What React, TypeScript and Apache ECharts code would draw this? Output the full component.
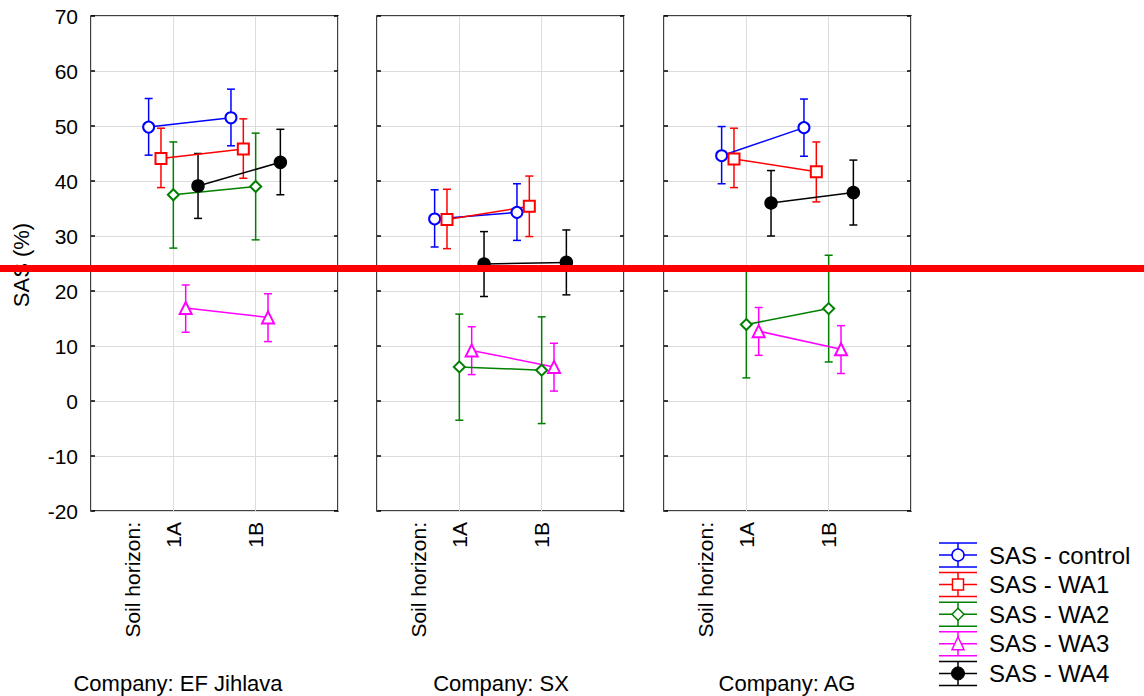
import React, { useEffect, useRef } from "react";
import * as echarts from "echarts";

// ---------- data ----------
const companies = ["EF Jihlava", "SX", "AG"];
const horizons = ["1A", "1B"];
const horizonTitle = "Soil horizon:";
const yAxisTitle = "SAS (%)";
const seriesNames = ["SAS - control", "SAS - WA1", "SAS - WA2", "SAS - WA3", "SAS - WA4"];

// values indexed [company][horizon]
const controlMean = [[49.8, 51.5], [33.1, 34.3], [44.6, 49.7]];
const controlLow = [[44.7, 46.4], [28.0, 29.2], [39.5, 44.5]];
const controlHigh = [[55.0, 56.7], [38.4, 39.5], [49.9, 54.9]];

const wa1Mean = [[44.1, 45.8], [33.0, 35.4], [44.0, 41.7]];
const wa1Low = [[38.8, 40.5], [27.7, 29.9], [38.8, 36.2]];
const wa1High = [[49.6, 51.3], [38.5, 40.9], [49.6, 47.1]];

const wa2Mean = [[37.5, 39.0], [6.2, 5.6], [13.9, 16.8]];
const wa2Low = [[27.8, 29.3], [-3.5, -4.1], [4.2, 7.1]];
const wa2High = [[47.1, 48.7], [15.8, 15.3], [23.6, 26.5]];

const wa3Mean = [[16.9, 15.2], [9.2, 6.2], [12.7, 9.4]];
const wa3Low = [[12.5, 10.8], [4.8, 1.8], [8.3, 5.0]];
const wa3High = [[21.1, 19.5], [13.5, 10.5], [17.0, 13.7]];

const wa4Mean = [[39.1, 43.4], [24.9, 25.2], [36.0, 37.9]];
const wa4Low = [[33.2, 37.5], [19.0, 19.3], [30.0, 32.0]];
const wa4High = [[45.0, 49.4], [30.8, 31.1], [41.9, 43.8]];

const yMin = -20;
const yMax = 70;
const yStep = 10;

// ---------- styles ----------
const means = [controlMean, wa1Mean, wa2Mean, wa3Mean, wa4Mean];
const lows = [controlLow, wa1Low, wa2Low, wa3Low, wa4Low];
const highs = [controlHigh, wa1High, wa2High, wa3High, wa4High];
const colors = ["#0000ff", "#ff0000", "#008000", "#ff00ff", "#000000"];
const symbols = ["emptyCircle", "emptyRect", "emptyDiamond", "emptyTriangle", "circle"];
const symbolSizes = [11, 11, 11, 12, 12];
const offsets = [-0.3, -0.15, 0, 0.15, 0.3];

const FONT = "'Liberation Sans', Arial, Helvetica, sans-serif";
const panelLefts = [91, 377, 664];
const panelWidth = 247;
const panelTop = 16;
const panelHeight = 495;
const companyLabelX = [178, 501, 787];

function buildOption(): any {
  const grid: any[] = [];
  const xAxis: any[] = [];
  const yAxis: any[] = [];
  const series: any[] = [];
  const graphic: any[] = [];

  companies.forEach((company, k) => {
    grid.push({
      left: panelLefts[k],
      top: panelTop,
      width: panelWidth,
      height: panelHeight,
      show: true,
      borderColor: "#000",
      borderWidth: 1.5,
      backgroundColor: "transparent",
    });
    xAxis.push({
      type: "value",
      gridIndex: k,
      min: 0,
      max: 3,
      interval: 1,
      axisLine: { show: false },
      axisTick: { show: false },
      splitLine: { show: true, lineStyle: { color: "#dcdcdc", width: 1 } },
      axisLabel: {
        customValues: [0.5, 1, 2],
        rotate: 90,
        margin: 11,
        fontSize: 21,
        color: "#000",
        fontFamily: FONT,
        formatter: (v: number) =>
          v === 0.5 ? horizonTitle : v === 1 ? horizons[0] : v === 2 ? horizons[1] : "",
      },
    });
    yAxis.push({
      type: "value",
      gridIndex: k,
      min: yMin,
      max: yMax,
      interval: yStep,
      position: "left",
      axisLine: { show: false },
      axisTick: { show: true, inside: true, length: 4, lineStyle: { color: "#000", width: 1.5 } },
      axisLabel: {
        show: k === 0,
        margin: 13,
        fontSize: 21,
        color: "#000",
        fontFamily: FONT,
      },
      splitLine: { show: true, lineStyle: { color: "#dcdcdc", width: 1 } },
    });
    yAxis.push({
      type: "value",
      gridIndex: k,
      min: yMin,
      max: yMax,
      interval: yStep,
      position: "right",
      axisLine: { show: false },
      axisTick: { show: true, inside: true, length: 4, lineStyle: { color: "#000", width: 1.5 } },
      axisLabel: { show: false },
      splitLine: { show: false },
    });

    seriesNames.forEach((name, s) => {
      const lineData = horizons.map((h, i) => [i + 1 + offsets[s], means[s][k][i]]);
      const errData = horizons.map((h, i) => [i + 1 + offsets[s], lows[s][k][i], highs[s][k][i]]);
      series.push({
        name,
        type: "custom",
        xAxisIndex: k,
        yAxisIndex: 2 * k,
        data: errData,
        z: 3,
        renderItem: (params: any, api: any) => {
          const x = api.value(0);
          const lo = api.coord([x, api.value(1)]);
          const hi = api.coord([x, api.value(2)]);
          const cap = 4;
          const style = { stroke: colors[s], lineWidth: 1.5 };
          return {
            type: "group",
            children: [
              { type: "line", shape: { x1: lo[0], y1: lo[1], x2: hi[0], y2: hi[1] }, style },
              { type: "line", shape: { x1: hi[0] - cap, y1: hi[1], x2: hi[0] + cap, y2: hi[1] }, style },
              { type: "line", shape: { x1: lo[0] - cap, y1: lo[1], x2: lo[0] + cap, y2: lo[1] }, style },
            ],
          };
        },
      });
      series.push({
        name,
        type: "line",
        xAxisIndex: k,
        yAxisIndex: 2 * k,
        data: lineData,
        z: 4,
        symbol: symbols[s],
        symbolSize: symbolSizes[s],
        showAllSymbol: true,
        lineStyle: { color: colors[s], width: 1.5 },
        itemStyle: { color: colors[s], borderColor: colors[s], borderWidth: 1.5 },
      });
    });

    graphic.push({
      type: "text",
      x: companyLabelX[k],
      y: 683,
      style: {
        text: "Company: " + company,
        font: `22px ${FONT}`,
        fill: "#000",
        textAlign: "center",
        textVerticalAlign: "middle",
      },
    });
  });

  // y-axis title
  graphic.push({
    type: "text",
    x: 21,
    y: 265,
    rotation: Math.PI / 2,
    style: {
      text: yAxisTitle,
      font: `22px ${FONT}`,
      fill: "#000",
      textAlign: "center",
      textVerticalAlign: "middle",
    },
  });

  // legend
  const legX0 = 939;
  const legX1 = 977;
  const legXc = 958;
  seriesNames.forEach((name, s) => {
    const yc = 555 + 29.6 * s;
    const ls = { stroke: colors[s], lineWidth: 1.5 };
    const children: any[] = [
      { type: "line", shape: { x1: legX0, y1: yc - 12, x2: legX1, y2: yc - 12 }, style: ls },
      { type: "line", shape: { x1: legX0, y1: yc, x2: legX1, y2: yc }, style: ls },
      { type: "line", shape: { x1: legX0, y1: yc + 12, x2: legX1, y2: yc + 12 }, style: ls },
      { type: "line", shape: { x1: legXc, y1: yc - 12, x2: legXc, y2: yc + 12 }, style: ls },
    ];
    const mStyle = { fill: "#fff", stroke: colors[s], lineWidth: 1.5 };
    if (s === 0) children.push({ type: "circle", shape: { cx: legXc, cy: yc, r: 6 }, style: mStyle });
    if (s === 1) children.push({ type: "rect", shape: { x: legXc - 5.5, y: yc - 5.5, width: 11, height: 11 }, style: mStyle });
    if (s === 2)
      children.push({
        type: "polygon",
        shape: { points: [[legXc, yc - 6], [legXc + 6, yc], [legXc, yc + 6], [legXc - 6, yc]] },
        style: mStyle,
      });
    if (s === 3)
      children.push({
        type: "polygon",
        shape: { points: [[legXc, yc - 7], [legXc + 6, yc + 6], [legXc - 6, yc + 6]] },
        style: mStyle,
      });
    if (s === 4) children.push({ type: "circle", shape: { cx: legXc, cy: yc, r: 6.5 }, style: { fill: "#000", stroke: "#000", lineWidth: 1 } });
    children.push({
      type: "text",
      x: 989,
      y: yc,
      style: {
        text: name,
        font: `24px ${FONT}`,
        fill: "#000",
        textAlign: "left",
        textVerticalAlign: "middle",
      },
    });
    graphic.push({ type: "group", children });
  });

  // red overlay band
  graphic.push({
    type: "rect",
    z: 100,
    shape: { x: 0, y: 265, width: 1144, height: 7 },
    style: { fill: "#ff0000" },
  });

  return {
    animation: false,
    backgroundColor: "#ffffff",
    textStyle: { fontFamily: FONT },
    grid,
    xAxis,
    yAxis,
    series,
    graphic,
  };
}

export default function App() {
  const ref = useRef<HTMLDivElement>(null);
  useEffect(() => {
    if (!ref.current) return;
    const chart = echarts.init(ref.current, undefined, { renderer: "svg" });
    chart.setOption(buildOption());
    return () => chart.dispose();
  }, []);
  return (
    <div
      ref={ref}
      style={{ position: "absolute", left: 0, top: 0, width: 1144, height: 696 }}
    />
  );
}
